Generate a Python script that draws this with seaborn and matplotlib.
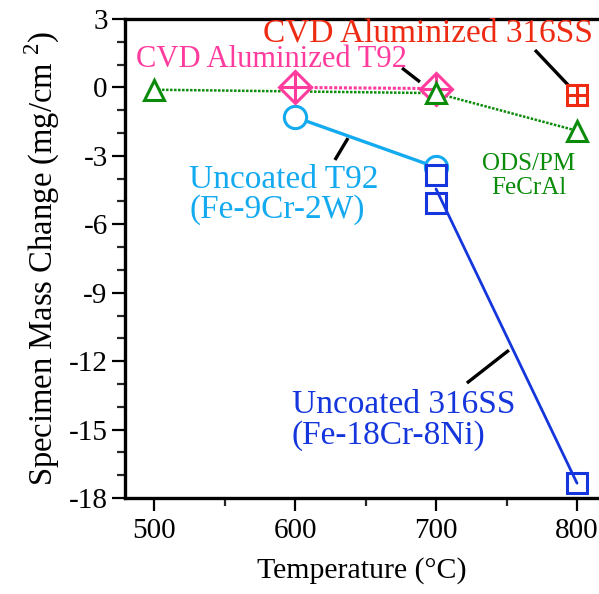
import numpy as np
import pandas as pd
import matplotlib
matplotlib.use("Agg")
import matplotlib.pyplot as plt
from matplotlib.ticker import MultipleLocator
import seaborn as sns

# ---- data ----
t92_temp = [600, 700]
t92_mass = [-1.3, -3.5]

ss316_temp = [700, 700, 800]
ss316_mass = [-3.85, -5.05, -17.35]

cvd_t92_temp = [600, 700]
cvd_t92_mass = [0.0, -0.05]

cvd_316_temp = [800]
cvd_316_mass = [-0.33]

ods_temp = [500, 700, 800]
ods_mass = [-0.1, -0.25, -1.9]

x_ticks = [500, 600, 700, 800]
y_ticks = [3, 0, -3, -6, -9, -12, -15, -18]

c_t92 = "#14AAF0"
c_316 = "#1436DC"
c_cvdt92 = "#FF3C9E"
c_cvd316 = "#EE2A12"
c_ods = "#0A8C0A"

sns.set_theme(style="ticks")
plt.rcParams["font.family"] = ["Liberation Serif", "DejaVu Serif"]
plt.rcParams["mathtext.fontset"] = "custom"
plt.rcParams["mathtext.rm"] = "Liberation Serif"
plt.rcParams["axes.unicode_minus"] = False

fig = plt.figure(figsize=(5.99, 5.94), dpi=100)
ax = fig.add_axes([125/599, 96/594, 474/599, 479/594])

# lines
df_t92 = pd.DataFrame({"T": t92_temp, "M": t92_mass})
sns.lineplot(data=df_t92, x="T", y="M", ax=ax, color=c_t92, lw=2.4, zorder=2)

# 316SS line from mean at 700 to 800
df_316 = pd.DataFrame({"T": ss316_temp, "M": ss316_mass})
df_316_mean = df_316.groupby("T", as_index=False)["M"].mean()
sns.lineplot(data=df_316_mean, x="T", y="M", ax=ax, color=c_316, lw=2.0, zorder=7)

df_cvdt92 = pd.DataFrame({"T": cvd_t92_temp, "M": cvd_t92_mass})
sns.lineplot(data=df_cvdt92, x="T", y="M", ax=ax, color=c_cvdt92, lw=2.2,
             linestyle=(0, (1, 0.6)), zorder=2)

df_ods = pd.DataFrame({"T": ods_temp, "M": ods_mass})
sns.lineplot(data=df_ods, x="T", y="M", ax=ax, color=c_ods, lw=1.8,
             linestyle=(0, (1, 0.6)), zorder=2)

# markers
mew = 2.2
ax.plot(t92_temp, t92_mass, "o", ms=16, mfc="white", mec=c_t92, mew=mew, zorder=3)
ax.plot(cvd_t92_temp, cvd_t92_mass, "D", ms=16, mfc="white", mec=c_cvdt92, mew=mew, zorder=4)
ax.plot(cvd_t92_temp, cvd_t92_mass, "+", ms=21, mec=c_cvdt92, mew=mew, zorder=4)
ax.plot(ods_temp, ods_mass, "^", ms=15, mfc="white", mec=c_ods, mew=mew, zorder=5)
ax.plot(ss316_temp, ss316_mass, "s", ms=14, mfc="white", mec=c_316, mew=mew, zorder=6)
ax.plot(cvd_316_temp, cvd_316_mass, "s", ms=14, mfc="white", mec=c_cvd316, mew=mew, zorder=6)
ax.plot(cvd_316_temp, cvd_316_mass, "+", ms=14, mec=c_cvd316, mew=mew, zorder=6)

# annotations
ax.text(694.3, 2.36, "CVD Aluminized 316SS", color=c_cvd316, fontsize=24, ha="center", va="center")
ax.text(583, 1.22, "CVD Aluminized T92", color=c_cvdt92, fontsize=22, ha="center", va="center")
ax.text(524.8, -4.7, "Uncoated T92\n(Fe-9Cr-2W)", color=c_t92, fontsize=24,
        ha="left", va="center", linespacing=0.97)
ax.text(765.9, -3.89, "ODS/PM\nFeCrAl", color=c_ods, fontsize=18,
        ha="center", va="center", linespacing=1.15)
ax.text(597.8, -14.6, "Uncoated 316SS\n(Fe-18Cr-8Ni)", color=c_316, fontsize=24,
        ha="left", va="center", linespacing=1.0)

# leader lines
lk = dict(color="black", lw=2.4, zorder=1, solid_capstyle="butt")
ax.plot([628.3, 637.6], [-3.18, -2.22], **lk)
ax.plot([675.9, 688.6], [0.85, 0.24], **lk)
ax.plot([770.2, 795.0], [1.64, 0.02], **lk)
ax.plot([721.9, 751.7], [-12.96, -11.52], **lk)

ax.set_xlim(479.4, 815.6)
ax.set_ylim(-18, 3)
ax.set_xticks(x_ticks)
ax.set_yticks(y_ticks)
ax.xaxis.set_minor_locator(MultipleLocator(50))
ax.yaxis.set_minor_locator(MultipleLocator(1))
ax.tick_params(axis="both", which="major", length=9.5, width=1.6, labelsize=21,
               direction="out", colors="black")
ax.tick_params(axis="x", which="major", pad=5)
ax.tick_params(axis="y", which="major", pad=3)
ax.tick_params(axis="both", which="minor", length=5.5, width=1.6, direction="out")
for s in ["left", "bottom", "top"]:
    ax.spines[s].set_linewidth(2.4)
    ax.spines[s].set_color("black")
ax.spines["right"].set_visible(False)

ax.set_xlabel("Temperature (°C)", fontsize=21.5, labelpad=9, color="black")
ax.set_ylabel("Specimen Mass Change (mg/cm $^2$)", fontsize=23.5, labelpad=5, color="black")

fig.savefig("out.png", dpi=100)
